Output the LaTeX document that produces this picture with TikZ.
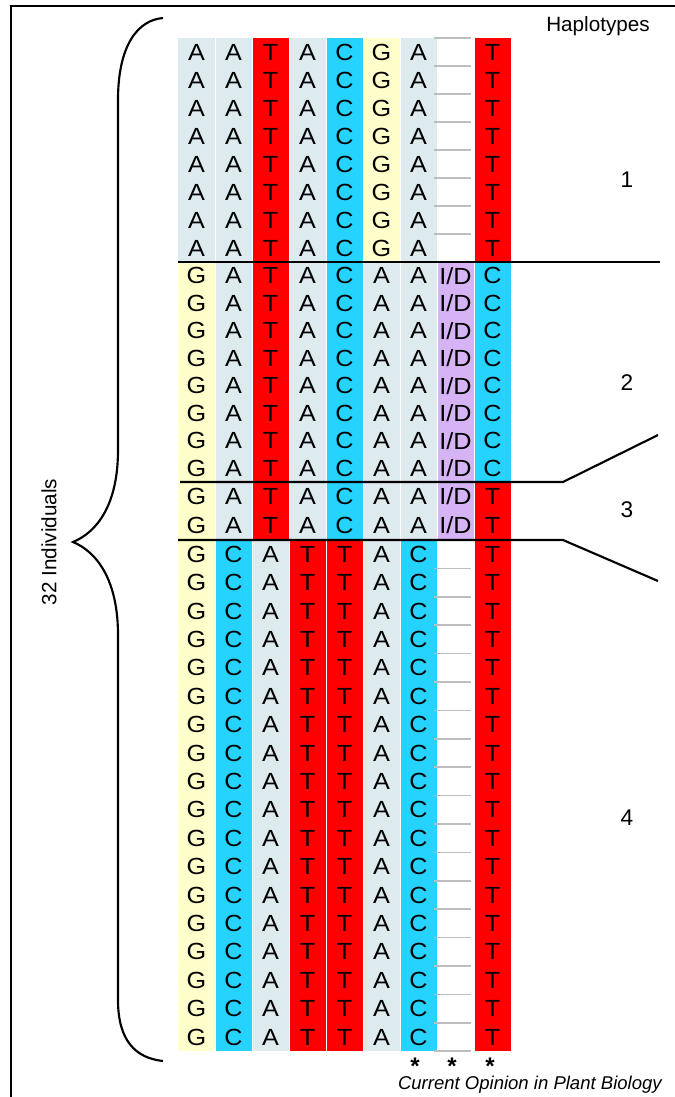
\documentclass[tikz,border=0pt]{standalone}
\usepackage{fontspec}
\setmainfont{Liberation Sans}
\definecolor{cellgray}{HTML}{DDEAEE}
\definecolor{cellred}{HTML}{FF0000}
\definecolor{cellcyan}{HTML}{26D3FF}
\definecolor{cellyellow}{HTML}{FFFFCC}
\definecolor{cellpurple}{HTML}{D5B3F5}
\definecolor{gapline}{HTML}{BDBDBD}

% one block of aligned sequences: id, top, row pitch, rows, column list
\newcommand\seqblock[5]{%
  \foreach \col/\txt [count=\i from 0] in {#5} {
    \pgfmathsetmacro\xl{178+37*\i}
    \fill[\col] (\xl,#2) rectangle ++(37,{#3*#4});
    \foreach \r in {1,...,#4} {
      \node[base] (#1-\i-\r) at ({\xl+18.5},{#2+#3*(\r-0.5)}) {\txt};
    }
  }
}

\begin{document}
\begin{tikzpicture}[x=0.75pt,y=-0.75pt,
  base/.style={font=\fontsize{17.5}{19}\selectfont, inner sep=0pt, xscale=1.08},
  label/.style={font=\fontsize{15.5}{17}\selectfont, inner sep=0pt},
  num/.style={font=\fontsize{17}{19}\selectfont, inner sep=0pt},
  star/.style={font=\fontsize{18}{20}\selectfont\bfseries, inner sep=0pt, anchor=base, text depth=0pt, text height=0.75em},
  sep/.style={black, line width=1.6pt},
  gap/.style={gapline, line width=1.3pt}]
\useasboundingbox (0,0) rectangle (675,1097);

% frame
\draw[line width=2.2pt] (11,1097) -- (11,6) -- (675,6);

% haplotype blocks
\seqblock{ba}{38}{28}{8}{cellgray/A,cellgray/A,cellred/T,cellgray/A,cellcyan/C,cellyellow/G,cellgray/A,white/{},cellred/T}
\seqblock{bb}{262}{27.5}{8}{cellyellow/G,cellgray/A,cellred/T,cellgray/A,cellcyan/C,cellgray/A,cellgray/A,cellpurple/{I/D},cellcyan/C}
\seqblock{bc}{482}{29}{2}{cellyellow/G,cellgray/A,cellred/T,cellgray/A,cellcyan/C,cellgray/A,cellgray/A,cellpurple/{I/D},cellred/T}
\seqblock{bd}{540}{28.4}{18}{cellyellow/G,cellcyan/C,cellgray/A,cellred/T,cellred/T,cellgray/A,cellcyan/C,white/{},cellred/T}

% thin column separators
\foreach \i in {1,...,8} \draw[white, line width=0.5pt] ({178+37*\i},38) -- ({178+37*\i},1051);

% gap markers in the empty column
\foreach \k in {0,...,7} \draw[gap] (434,{38+28*\k}) -- (471,{38+28*\k});
\foreach \k in {1,...,18} \draw[gap] (434,{540+28.4*\k}) -- (471,{540+28.4*\k});

% haplotype separators
\draw[sep] (178,262) -- (660,262);
\draw[sep] (180,482) -- (563,482) -- (658,435);
\draw[sep] (178,540) -- (563,540) -- (658,581);

% brace
\draw[line width=1.6pt] (163,18) .. controls (138,20) and (118,45) .. (118,100)
  -- (118,450) .. controls (118,505) and (97,532) .. (73,542)
  .. controls (97,552) and (118,580) .. (118,635)
  -- (118,1000) .. controls (118,1040) and (135,1058) .. (163,1061);

% labels
\node[label, rotate=90] (ind) at (49,542) {32 Individuals};
\node[label] (hap) at (598,26) {Haplotypes};
\node[num] (h1) at (627,180) {1};
\node[num] (h2) at (627,383) {2};
\node[num] (h3) at (627,510) {3};
\node[num] (h4) at (627,818) {4};
\node[star] (s1) at (415,1074) {*};
\node[star] (s2) at (452,1074) {*};
\node[star] (s3) at (490,1074) {*};
\node[font=\fontsize{13.9}{16}\selectfont\itshape, inner sep=0pt, anchor=east] (src) at (662,1085) {Current Opinion in Plant Biology};
\end{tikzpicture}
\end{document}
